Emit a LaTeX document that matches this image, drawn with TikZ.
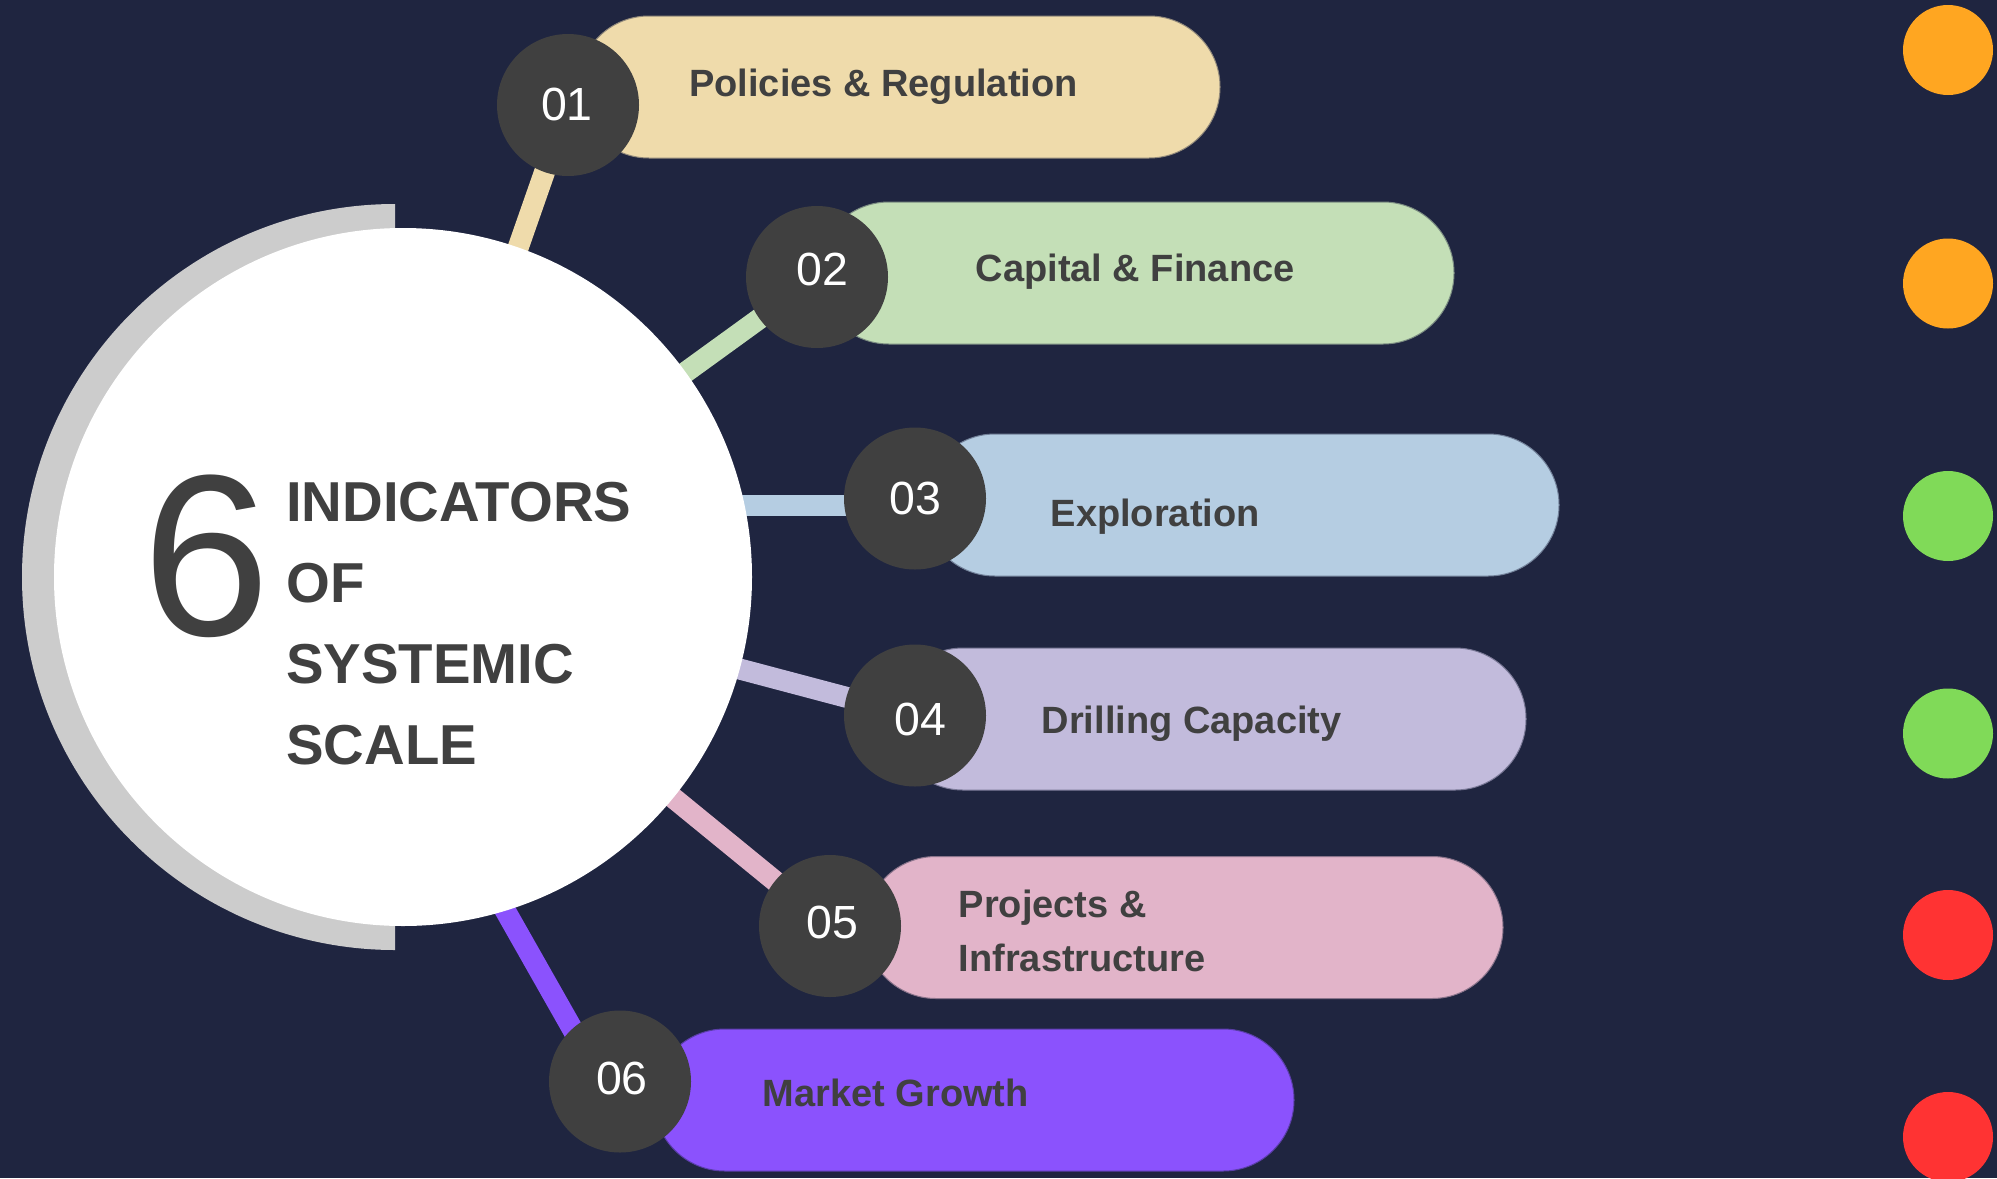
\documentclass[tikz,border=0pt]{standalone}
\usepackage{fontspec}
\setmainfont{Liberation Sans}
\definecolor{bgc}{HTML}{1F2540}
\definecolor{ringgray}{HTML}{CCCCCC}
\definecolor{numgray}{HTML}{404040}
\definecolor{txt}{HTML}{404040}
\definecolor{cA}{HTML}{EFDBAB}
\definecolor{cB}{HTML}{C4DFB7}
\definecolor{cC}{HTML}{B5CDE2}
\definecolor{cD}{HTML}{C2BBDC}
\definecolor{cE}{HTML}{E2B4C9}
\definecolor{cF}{HTML}{8B52FD}
\definecolor{dorange}{HTML}{FFA621}
\definecolor{dgreen}{HTML}{80DA58}
\definecolor{dred}{HTML}{FF3333}
\pgfdeclarelayer{back}
\pgfdeclarelayer{mid}
\pgfsetlayers{back,mid,main}
\begin{document}
\begin{tikzpicture}[x=1pt,y=-1pt,
  pill/.style={rectangle, rounded corners=70.9pt, minimum height=142pt, inner sep=0pt, line width=1pt},
  numc/.style={circle, fill=numgray, minimum size=142pt, inner sep=0pt},
  numlbl/.style={inner sep=0pt, text=white, font=\fontsize{46.5pt}{50pt}\selectfont},
  conn/.style={line width=21pt},
  lbl/.style={anchor=base west, inner sep=0pt, text=txt, align=left, font=\bfseries\fontsize{38pt}{54pt}\selectfont},
  dot/.style={circle, minimum size=90pt, inner sep=0pt}]
\begin{pgfonlayer}{back}
\fill[bgc] (0,0) rectangle (1997,1178);
\end{pgfonlayer}
\useasboundingbox (0,0) rectangle (1997,1178);

% gray half ring
\begin{scope}
\clip (0,0) rectangle (395,1178);
\fill[ringgray] (395,577) circle[radius=373pt];
\end{scope}
% main circle
\node[circle, fill=white, minimum size=698pt, inner sep=0pt] (main) at (403,577) {};
\node[anchor=base, inner sep=0pt, text=txt, font=\fontsize{230pt}{234pt}\selectfont] (six) at (206,635) {6};
\node[anchor=base west, inner sep=0pt, text=txt, align=left, font=\bfseries\fontsize{56.3pt}{81pt}\selectfont] (title) at (286,764) {INDICATORS\\OF\\SYSTEMIC\\SCALE};

% pills
\node[pill, fill=cA, draw=cA!55!bgc] (p1) at (899,87) [minimum width=642pt] {};
\node[pill, fill=cB, draw=cB!55!bgc] (p2) at (1136,273) [minimum width=636pt] {};
\node[pill, fill=cC, draw=cC!55!bgc] (p3) at (1241.5,505) [minimum width=635pt] {};
\node[pill, fill=cD, draw=cD!55!bgc] (p4) at (1209,719) [minimum width=634pt] {};
\node[pill, fill=cE, draw=cE!55!bgc] (p5) at (1184,927.5) [minimum width=638pt] {};
\node[pill, fill=cF, draw=cF!55!bgc] (p6) at (974,1100) [minimum width=640pt] {};

% pill labels
\node[lbl] (t1) at (689,96) {Policies \& Regulation};
\node[lbl] (t2) at (975.5,281.7) {Capital \& Finance};
\node[lbl] (t3) at (1050.5,526) {Exploration};
\node[lbl] (t4) at (1041.5,733) {Drilling Capacity};
\node[lbl] (t5) at (958.5,971) {Projects \&\\Infrastructure};
\node[lbl] (t6) at (762.5,1106) {Market Growth};

% number circles
\node[numc] (n1) at (568,105) {};
\node[numc] (n2) at (817,277) {};
\node[numc] (n3) at (915,498.5) {};
\node[numc] (n4) at (915,715.5) {};
\node[numc] (n5) at (830,926) {};
\node[numc] (n6) at (620,1081.5) {};
\node[numlbl] (k1) at (567,104) {01};
\node[numlbl] (k2) at (822,269.5) {02};
\node[numlbl] (k3) at (915,498.3) {03};
\node[numlbl] (k4) at (920,719.7) {04};
\node[numlbl] (k5) at (832.5,922) {05};
\node[numlbl] (k6) at (622,1078) {06};

% connectors
\coordinate (l3a) at (700,505);
\coordinate (l4a) at (700,658.5);
\coordinate (l6a) at (480,866);
\coordinate (l6b) at (590,1060);
\begin{pgfonlayer}{mid}
\draw[conn, cA] (main.center) -- (n1.center);
\draw[conn, cB] (main.center) -- (n2.center);
\draw[conn, cC] (l3a) -- (l3a -| n3.center);
\draw[conn, cD] (l4a) -- (n4.center);
\draw[conn, cE] (main.center) -- (n5.center);
\draw[conn, cF] (l6a) -- (l6b);
\end{pgfonlayer}

% status dots
\node[dot, fill=dorange] (d1) at (1948,50) {};
\node[dot, fill=dorange] (d2) at (1948,283.5) {};
\node[dot, fill=dgreen] (d3) at (1948,516) {};
\node[dot, fill=dgreen] (d4) at (1948,733.5) {};
\node[dot, fill=dred] (d5) at (1948,935) {};
\node[dot, fill=dred] (d6) at (1948,1137) {};
\end{tikzpicture}
\end{document}
